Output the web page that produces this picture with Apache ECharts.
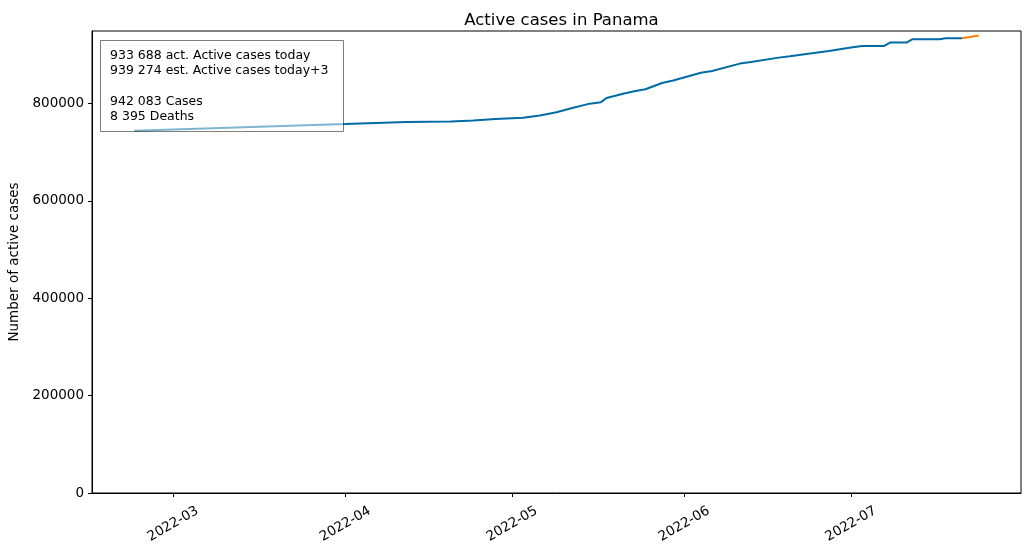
<!DOCTYPE html>
<html>
<head>
<meta charset="utf-8">
<script src="https://cdn.jsdelivr.net/npm/echarts@6/dist/echarts.min.js"></script>
<style>
html,body{margin:0;padding:0;background:#fff;}
#chart{width:1031px;height:554px;}
</style>
</head>
<body>
<div id="chart"></div>
<script>
var actualDates = ['2022-02-22','2022-04-01','2022-04-12','2022-04-20','2022-04-24','2022-04-28',
  '2022-05-03','2022-05-06','2022-05-09','2022-05-12','2022-05-15','2022-05-17','2022-05-18',
  '2022-05-21','2022-05-23','2022-05-25','2022-05-28','2022-05-30','2022-06-04','2022-06-06',
  '2022-06-11','2022-06-13','2022-06-18','2022-06-20','2022-06-27','2022-07-01','2022-07-03',
  '2022-07-07','2022-07-08','2022-07-11','2022-07-12','2022-07-17','2022-07-18','2022-07-21'];
var actualValues = [744000,757500,761600,763000,765000,768000,
  770600,775000,782000,791000,799500,802600,811000,
  820000,825000,829000,842000,847000,863000,866500,
  881700,885000,894000,897000,907600,914600,918000,
  918000,925000,925000,931600,931600,933688,933688];
// Estimate
var estDates = ['2022-07-21','2022-07-24'];
var estValues = [933688,939274];
// Month ticks
var tickDates = ['2022-03-01','2022-04-01','2022-05-01','2022-06-01','2022-07-01'];
var yTicks = [0,200000,400000,600000,800000];
var infoLines = ['933 688 act. Active cases today','939 274 est. Active cases today+3','','942 083 Cases','8 395 Deaths'];
var titleText = 'Active cases in Panama';
var yName = 'Number of active cases';

function ts(s){var p=s.split('-');return Date.UTC(+p[0],+p[1]-1,+p[2]);}
function pairs(d,v){return d.map(function(x,i){return [ts(x),v[i]];});}
var DAY=86400000;
var xMin = ts('2022-02-22') - 7.6*DAY;
var xMax = ts('2022-07-24') + 7.6*DAY;
var FONT='DejaVu Sans';

var chart = echarts.init(document.getElementById('chart'));
var graphics = [{
  type:'rect', z:100, shape:{x:100.5,y:40.5,width:243,height:91},
  style:{fill:'rgba(255,255,255,0.5)',stroke:'rgba(0,0,0,0.5)',lineWidth:1}
}];
infoLines.forEach(function(t,i){
  graphics.push({type:'text', z:101, x:110, y:55.5+i*15.3,
    style:{text:t,fill:'#000',font:'12.5px "DejaVu Sans"',textVerticalAlign:'middle'}});
});
chart.setOption({
  animation:false,
  backgroundColor:'#fff',
  title:{text:titleText,left:556.5,textAlign:'center',top:7,
    textStyle:{fontFamily:FONT,fontSize:16.5,fontWeight:'normal',color:'#000'}},
  grid:{left:92,right:10,top:31,bottom:61,show:true,borderColor:'#000',borderWidth:1,backgroundColor:'transparent',
    containLabel:false,outerBoundsMode:'none'},
  xAxis:{type:'value',min:xMin,max:xMax,scale:true,
    axisLine:{show:true,onZero:false,lineStyle:{color:'#000',width:1}},
    axisTick:{show:true,length:4,lineStyle:{color:'#000'},customValues:tickDates.map(ts)},
    axisLabel:{customValues:tickDates.map(ts),rotate:30,align:'center',verticalAlign:'middle',margin:31,
      fontFamily:FONT,fontSize:13.5,color:'#000',
      formatter:function(v){var d=new Date(v);var m=d.getUTCMonth()+1;return d.getUTCFullYear()+'-'+(m<10?'0'+m:m);}},
    splitLine:{show:false}},
  yAxis:{type:'value',min:0,max:948667,interval:200000,
    name:yName,nameLocation:'middle',nameGap:68,nameRotate:90,
    nameTextStyle:{fontFamily:FONT,fontSize:13.5,color:'#000'},
    axisLine:{show:true,lineStyle:{color:'#000',width:1}},
    axisTick:{show:true,length:4,lineStyle:{color:'#000'},customValues:yTicks},
    axisLabel:{customValues:yTicks,margin:8,fontFamily:FONT,fontSize:13.5,color:'#000',
      formatter:function(v){return String(v);}},
    splitLine:{show:false}},
  series:[
    {type:'line',data:pairs(actualDates,actualValues),showSymbol:false,symbol:'none',
      lineStyle:{color:'#006BA4',width:2},z:3},
    {type:'line',data:pairs(estDates,estValues),showSymbol:false,symbol:'none',
      lineStyle:{color:'#FF800E',width:2},z:2}
  ],
  graphic:graphics
});
</script>
</body>
</html>
